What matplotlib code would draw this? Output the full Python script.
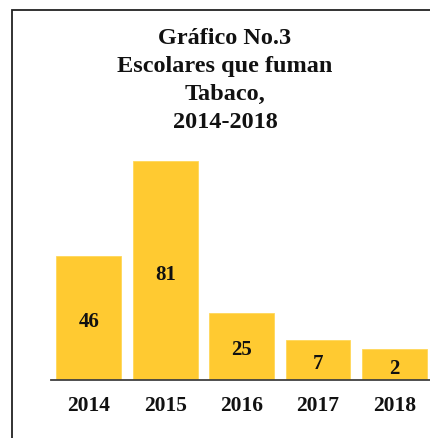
import matplotlib
matplotlib.use("Agg")
import matplotlib.pyplot as plt
from matplotlib.patches import Rectangle

years = ["2014", "2015", "2016", "2017", "2018"]
value_labels = ["46", "81", "25", "7", "2"]
bar_heights = [46, 81, 25, 14.8, 11.4]
title = "Gráfico No.3\nEscolares que fuman\nTabaco,\n2014-2018"

W, H = 430, 439
fig = plt.figure(figsize=(W / 100, H / 100), dpi=100)
plt.rcParams['font.family'] = ['Liberation Serif', 'DejaVu Serif']

# axes geometry in pixels
x_left, x_right = 50.6, 432.6
y_bottom, px_per_unit = 381, 2.7
y_top = 20
ax = fig.add_axes([x_left / W, (H - y_bottom) / H, (x_right - x_left) / W, (y_bottom - y_top) / H])
ax.set_xlim(-0.5, 4.5)
ax.set_ylim(0, (y_bottom - y_top) / px_per_unit)

bar_color = "#FFCA31"
xs = range(len(years))
bars = ax.bar(xs, bar_heights, width=0.85, color=bar_color, edgecolor="#FFD75A", linewidth=0.6)
for x, h, lab in zip(xs, bar_heights, value_labels):
    ax.text(x, h / 2 - 1.2, lab, ha="center", va="center", fontsize=15,
            fontweight="bold", color="#111111")

for s in ["top", "right", "left"]:
    ax.spines[s].set_visible(False)
ax.spines["bottom"].set_color("#404040")
ax.spines["bottom"].set_linewidth(1.3)
ax.set_yticks([])
ax.set_xticks(list(xs))
ax.set_xticklabels(years, fontsize=15.5, fontweight="bold", color="#111111")
ax.tick_params(axis="x", length=0, pad=11)
ax.patch.set_alpha(0)

# title
fig.text(225 / W, 1 - 28 / H, title, ha="center", va="top", fontsize=17.5,
         fontweight="bold", color="#111111", linespacing=1.44)

# border (left & top visible)
fig.patches.append(Rectangle((11.5 / W, -0.1), 1.2, 1 - 10.5 / H + 0.1,
                             transform=fig.transFigure, fill=False,
                             edgecolor="#222222", linewidth=1.3))

fig.savefig("out.png", dpi=100)
